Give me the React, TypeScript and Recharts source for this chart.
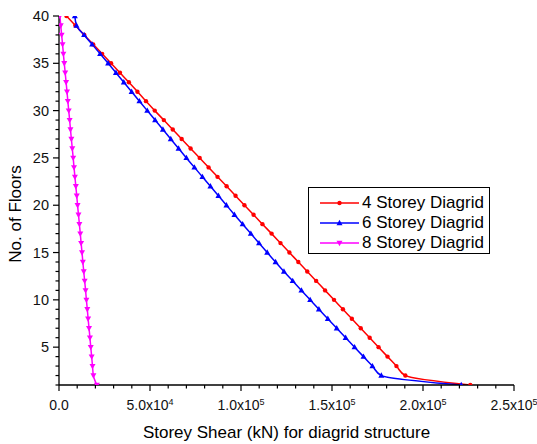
import React from "react";
import { LineChart, Line, XAxis, YAxis, Legend } from "recharts";

// floors from top to bottom
const floors = [
  40, 39, 38, 37, 36, 35, 34, 33, 32, 31, 30, 29, 28, 27, 26, 25, 24, 23, 22, 21,
  20, 19, 18, 17, 16, 15, 14, 13, 12, 11, 10, 9, 8, 7, 6, 5, 4, 3, 2, 1,
];

// storey shear (kN)
const shear4 = [
  4100, 9000, 13900, 18800, 23700, 28600, 33500, 38400, 43100, 47800, 52600,
  57600, 62500, 67400, 72300, 77300, 82200, 87100, 92100, 97000, 101900,
  106900, 111800, 116800, 121700, 126600, 131500, 136400, 141300, 146200,
  151100, 156000, 160900, 165800, 170700, 175600, 180500, 185400, 190300,
  226000,
];
const shear6 = [
  8700, 9600, 13800, 18200, 22600, 27000, 31300, 35600, 39900, 44200, 48500,
  52800, 57100, 61400, 65700, 70000, 74400, 78800, 83200, 87600, 92000, 96400,
  100900, 105400, 109900, 114400, 119000, 123600, 128400, 133200, 138000,
  142800, 147700, 152600, 157500, 162400, 167300, 172200, 177100, 221000,
];
const shear8 = [
  500, 950, 1450, 1950, 2400, 2900, 3400, 3900, 4400, 4850, 5350, 5850, 6300,
  6800, 7300, 7800, 8250, 8750, 9250, 9750, 10200, 10700, 11200, 11700, 12150,
  12650, 13100, 13600, 14100, 14600, 15050, 15550, 16000, 16500, 17000, 17450,
  17950, 18400, 18900, 20800,
];

const seriesNames = ["4 Storey Diagrid", "6 Storey Diagrid", "8 Storey Diagrid"];
const seriesColors = ["#ff0000", "#0000ff", "#ff00ff"];

const xMajor = [0, 50000, 100000, 150000, 200000, 250000];
const xMantissa = ["0.0", "5.0x10", "1.0x10", "1.5x10", "2.0x10", "2.5x10"];
const xExponent = ["", "4", "5", "5", "5", "5"];
const xTicks = Array.from({ length: 26 }, (_, i) => i * 10000);

const yMajor = [5, 10, 15, 20, 25, 30, 35, 40];
const yTicks = Array.from({ length: 40 }, (_, i) => i + 1);

const data = floors.map((f, i) => ({
  floor: f,
  s4: shear4[i],
  s6: shear6[i],
  s8: shear8[i],
}));

const FONT = "Arial, 'Liberation Sans', sans-serif";

function Marker({ cx, cy, kind, color }: { cx: number; cy: number; kind: number; color: string }) {
  if (cx == null || cy == null) return null;
  if (kind === 0) return <circle cx={cx} cy={cy} r={2.2} fill={color} />;
  if (kind === 1)
    return (
      <polygon
        points={`${cx},${cy - 3.2} ${cx - 3},${cy + 2.2} ${cx + 3},${cy + 2.2}`}
        fill={color}
      />
    );
  return (
    <polygon
      points={`${cx},${cy + 3.2} ${cx - 3},${cy - 2.2} ${cx + 3},${cy - 2.2}`}
      fill={color}
    />
  );
}

function XTick({ x, y, payload }: any) {
  const i = xMajor.indexOf(payload.value);
  const major = i >= 0;
  return (
    <g>
      <line x1={x} x2={x} y1={y} y2={y + (major ? 6 : 3.5)} stroke="#000" strokeWidth={1.2} />
      {major && (
        <text x={x} y={y + 25} textAnchor="middle" fontSize={14} fontFamily={FONT} fill="#111">
          <tspan>{xMantissa[i]}</tspan>
          {xExponent[i] && (
            <tspan dy={-5.5} fontSize={9}>
              {xExponent[i]}
            </tspan>
          )}
        </text>
      )}
    </g>
  );
}

function YTick({ x, y, payload }: any) {
  const major = yMajor.includes(payload.value);
  return (
    <g>
      <line x1={x} x2={x - (major ? 6 : 3.5)} y1={y} y2={y} stroke="#000" strokeWidth={1.2} />
      {major && (
        <text x={x - 10} y={y + 5} textAnchor="end" fontSize={14.5} fontFamily={FONT} fill="#111">
          {payload.value}
        </text>
      )}
    </g>
  );
}

function LegendBox() {
  return (
    <div
      style={{
        border: "1px solid #000",
        background: "#fff",
        width: 180,
        height: 60,
        boxSizing: "content-box",
        paddingTop: 5,
        fontFamily: FONT,
      }}
    >
      {seriesNames.map((name, i) => (
        <div key={name} style={{ display: "flex", alignItems: "center", height: 20 }}>
          <svg width={52} height={20} style={{ flex: "none" }}>
            <line x1={11} x2={50} y1={10} y2={10} stroke={seriesColors[i]} strokeWidth={1.5} />
            <Marker cx={30.5} cy={10} kind={i} color={seriesColors[i]} />
          </svg>
          <span style={{ fontSize: 17, color: "#000", whiteSpace: "nowrap", marginLeft: 1 }}>
            {name}
          </span>
        </div>
      ))}
    </div>
  );
}

export default function App() {
  const keys = ["s4", "s6", "s8"];
  return (
    <div style={{ position: "absolute", left: 0, top: 0, width: 537, height: 444, background: "#fff" }}>
      <LineChart
        width={537}
        height={444}
        data={data}
        layout="vertical"
        margin={{ top: 16, right: 23, left: 0, bottom: 0 }}
      >
        <XAxis
          type="number"
          domain={[0, 250000]}
          ticks={xTicks}
          interval={0}
          tick={<XTick />}
          tickLine={false}
          tickSize={0}
          tickMargin={0}
          height={59}
          allowDataOverflow
          axisLine={{ stroke: "#000", strokeWidth: 1.3 }}
        />
        <YAxis
          type="number"
          dataKey="floor"
          domain={[1, 40]}
          ticks={yTicks}
          interval={0}
          reversed
          tick={<YTick />}
          tickLine={false}
          tickSize={0}
          tickMargin={0}
          width={59}
          allowDataOverflow
          axisLine={{ stroke: "#000", strokeWidth: 1.3 }}
        />
        <Legend
          layout="horizontal"
          align="center"
          verticalAlign="middle"
          wrapperStyle={{ left: 308, top: 187, width: 182, height: 67 }}
          content={() => <LegendBox />}
        />
        {keys.map((k, i) => (
          <Line
            key={k}
            type="monotone"
            dataKey={k}
            name={seriesNames[i]}
            stroke={seriesColors[i]}
            strokeWidth={1.5}
            isAnimationActive={false}
            dot={(p: any) => (
              <Marker key={`${k}-${p.index}`} cx={p.cx} cy={p.cy} kind={i} color={seriesColors[i]} />
            )}
            activeDot={false}
          />
        ))}
      </LineChart>
      <svg
        width={537}
        height={444}
        style={{ position: "absolute", left: 0, top: 0, pointerEvents: "none" }}
      >
        <text x={286.5} y={438} textAnchor="middle" fontSize={17} fontFamily={FONT} fill="#000">
          Storey Shear (kN) for diagrid structure
        </text>
        <text
          x={21}
          y={214}
          textAnchor="middle"
          fontSize={17}
          fontFamily={FONT}
          fill="#000"
          transform="rotate(-90 21 214)"
        >
          No. of Floors
        </text>
      </svg>
    </div>
  );
}
